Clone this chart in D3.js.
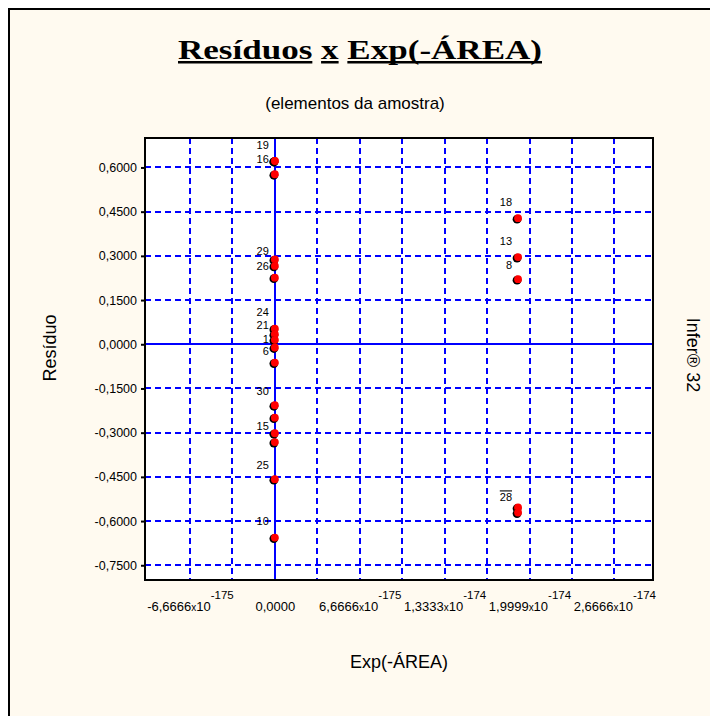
<!DOCTYPE html>
<html>
<head>
<meta charset="utf-8">
<script src="https://cdn.jsdelivr.net/npm/d3@7"></script>
<style>
  body { margin: 0; background: #ffffff; }
  svg { display: block; }
</style>
</head>
<body>
<svg id="chart" width="710" height="716"></svg>
<script>
// residuals vs Exp(-AREA), one entry per sample element
const pointIds = ["19", "16", "", "29", "26", "", "24", "21", "1", "6", "", "30", "", "15", "", "25", "10",
                  "18", "13", "8", "28", ""];
const expArea = [0, 0, 0, 0, 0, 0, 0, 0, 0, 0, 0, 0, 0, 0, 0, 0, 0,
                 1.91e-174, 1.91e-174, 1.91e-174, 1.91e-174, 1.91e-174];
const residuals = [0.622, 0.622, 0.577, 0.288, 0.266, 0.226, 0.053, 0.034, 0.015, -0.011, -0.062,
                   -0.207, -0.249, -0.302, -0.332, -0.458, -0.656,
                   0.428, 0.296, 0.221, -0.554, -0.571];

const yTickValues = [0.6, 0.45, 0.3, 0.15, 0, -0.15, -0.3, -0.45, -0.6, -0.75];
const xGridValues = [-2, -1, 0, 1, 2, 3, 4, 5, 6, 7, 8].map(k => k * 3.33333e-175);
const xTickValues = [-6.6666e-175, 0, 6.6666e-175, 1.3333e-174, 1.9999e-174, 2.6666e-174];
const xTickMantissa = ["-6,6666", "0,0000", "6,6666", "1,3333", "1,9999", "2,6666"];
const xTickExponent = ["-175", "", "-175", "-174", "-174", "-174"];

// label nudges (pixels, vertical) so the stacked ids sit like the original
const labelDy = { "19": -16, "16": -2, "29": -8, "26": 0, "24": -16, "21": -9, "1": -1, "6": 4,
                  "30": -14, "15": -7, "25": -14, "10": -16, "18": -16, "13": -16, "8": -14, "28": -10 };

const svg = d3.select("#chart");
const margin = { top: 138, right: 57, bottom: 136, left: 145 };
const width = 710 - margin.left - margin.right;
const height = 716 - margin.top - margin.bottom;

// panel background
svg.append("rect").attr("x", 8).attr("y", 8).attr("width", 710).attr("height", 716).attr("fill", "#fffaf0");
svg.append("line").attr("x1", 9).attr("x2", 9).attr("y1", 8).attr("y2", 716).attr("stroke", "#000").attr("stroke-width", 2);
svg.append("line").attr("x1", 8).attr("x2", 710).attr("y1", 9).attr("y2", 9).attr("stroke", "#000").attr("stroke-width", 2);

const x = d3.scaleLinear().domain([-1.02e-174, 2.97e-174]).range([0, width]);
const y = d3.scaleLinear().domain([-0.8, 0.7]).range([height, 0]);

const locale = d3.formatLocale({ decimal: ",", thousands: ".", grouping: [3], currency: ["", ""], minus: "-" });
const fmt = locale.format(".4f");

const g = svg.append("g").attr("transform", `translate(${margin.left},${margin.top})`);

g.append("rect").attr("width", width).attr("height", height).attr("fill", "#fff");

// grid
g.selectAll(".hgrid").data(yTickValues.filter(d => d !== 0)).join("line")
  .attr("x1", 0).attr("x2", width)
  .attr("y1", d => Math.round(y(d))).attr("y2", d => Math.round(y(d)))
  .attr("stroke", "#0000ff").attr("stroke-width", 2).attr("stroke-dasharray", "6,4");
g.selectAll(".vgrid").data(xGridValues.filter(d => d !== 0)).join("line")
  .attr("x1", d => Math.round(x(d))).attr("x2", d => Math.round(x(d)))
  .attr("y1", 0).attr("y2", height)
  .attr("stroke", "#0000ff").attr("stroke-width", 2).attr("stroke-dasharray", "6,4");

// zero lines
g.append("line").attr("x1", 0).attr("x2", width).attr("y1", Math.round(y(0))).attr("y2", Math.round(y(0)))
  .attr("stroke", "#0000ff").attr("stroke-width", 2);
g.append("line").attr("x1", Math.round(x(0))).attr("x2", Math.round(x(0))).attr("y1", 0).attr("y2", height)
  .attr("stroke", "#0000ff").attr("stroke-width", 2);

// frame
g.append("rect").attr("width", width).attr("height", height).attr("fill", "none")
  .attr("stroke", "#000").attr("stroke-width", 2);

// y axis
const yAxis = g.append("g")
  .call(d3.axisLeft(y).tickValues(yTickValues).tickSize(4).tickPadding(4).tickFormat(fmt));
yAxis.select(".domain").remove();
yAxis.selectAll("line").attr("stroke", "#000").attr("stroke-width", 2);
yAxis.selectAll("text").attr("font-family", "Liberation Sans, Arial, sans-serif")
  .attr("font-size", 12.5).attr("fill", "#000");

// x axis labels with exponent
const xAxis = g.append("g").attr("transform", `translate(0,${height})`)
  .call(d3.axisBottom(x).tickValues(xTickValues).tickSize(0).tickPadding(0).tickFormat(""));
xAxis.select(".domain").remove();
xAxis.selectAll(".tick text").each(function (d, i) {
  const t = d3.select(this)
    .attr("y", 31).attr("dy", 0)
    .attr("font-family", "Liberation Sans, Arial, sans-serif").attr("font-size", 13).attr("fill", "#000");
  t.text(null);
  t.append("tspan").text(xTickMantissa[i]);
  if (xTickExponent[i]) {
    t.append("tspan").attr("font-size", 10).text("x");
    t.append("tspan").text("10");
    t.append("tspan").attr("dy", -12).attr("font-size", 11.5).text(xTickExponent[i]);
  }
});

// points
const pts = g.append("g");
residuals.forEach((r, i) => {
  const px = x(expArea[i]), py = y(r);
  pts.append("circle").attr("cx", px - 1).attr("cy", py + 1).attr("r", 4.4).attr("fill", "#000");
  pts.append("circle").attr("cx", px).attr("cy", py).attr("r", 3.9).attr("fill", "#ff0000");
});

// point ids
const lbl = g.append("g");
pointIds.forEach((id, i) => {
  if (!id) return;
  const t = lbl.append("text")
    .attr("x", x(expArea[i]) - 6)
    .attr("y", y(residuals[i]) + (labelDy[id] ?? -14))
    .attr("dy", "0.35em")
    .attr("text-anchor", "end")
    .attr("font-family", "Liberation Sans, Arial, sans-serif")
    .attr("font-size", 11)
    .attr("fill", "#000")
    .text(id);
  if (id === "28") t.style("text-decoration", "overline");
});

// titles
const title = svg.append("text")
  .attr("x", 360).attr("y", 59)
  .attr("text-anchor", "middle")
  .attr("font-family", "Liberation Serif, Times New Roman, serif")
  .attr("font-weight", "bold").attr("font-size", 28).attr("fill", "#000")
  .attr("textLength", 364).attr("lengthAdjust", "spacingAndGlyphs")
  .text("Resíduos x Exp(-ÁREA)");
const tn = title.node();
[[0, 7], [9, 9], [11, 20]].forEach(([a, b]) => {
  const x0 = tn.getStartPositionOfChar(a).x, x1 = tn.getEndPositionOfChar(b).x;
  svg.append("rect").attr("x", x0).attr("y", 61).attr("width", x1 - x0).attr("height", 2.5).attr("fill", "#000");
});

svg.append("text").attr("x", 355).attr("y", 109).attr("text-anchor", "middle")
  .attr("font-family", "Liberation Sans, Arial, sans-serif").attr("font-size", 17).attr("fill", "#000")
  .text("(elementos da amostra)");

svg.append("text").attr("x", margin.left + width / 2).attr("y", 668).attr("text-anchor", "middle")
  .attr("font-family", "Liberation Sans, Arial, sans-serif").attr("font-size", 18).attr("fill", "#000")
  .text("Exp(-ÁREA)");

svg.append("text").attr("transform", "translate(56,348) rotate(-90)").attr("text-anchor", "middle")
  .attr("font-family", "Liberation Sans, Arial, sans-serif").attr("font-size", 18).attr("fill", "#000")
  .text("Resíduo");

svg.append("text").attr("transform", "translate(687,355) rotate(90)").attr("text-anchor", "middle")
  .attr("font-family", "Liberation Sans, Arial, sans-serif").attr("font-size", 18).attr("fill", "#000")
  .text("Infer® 32");
</script>
</body>
</html>
